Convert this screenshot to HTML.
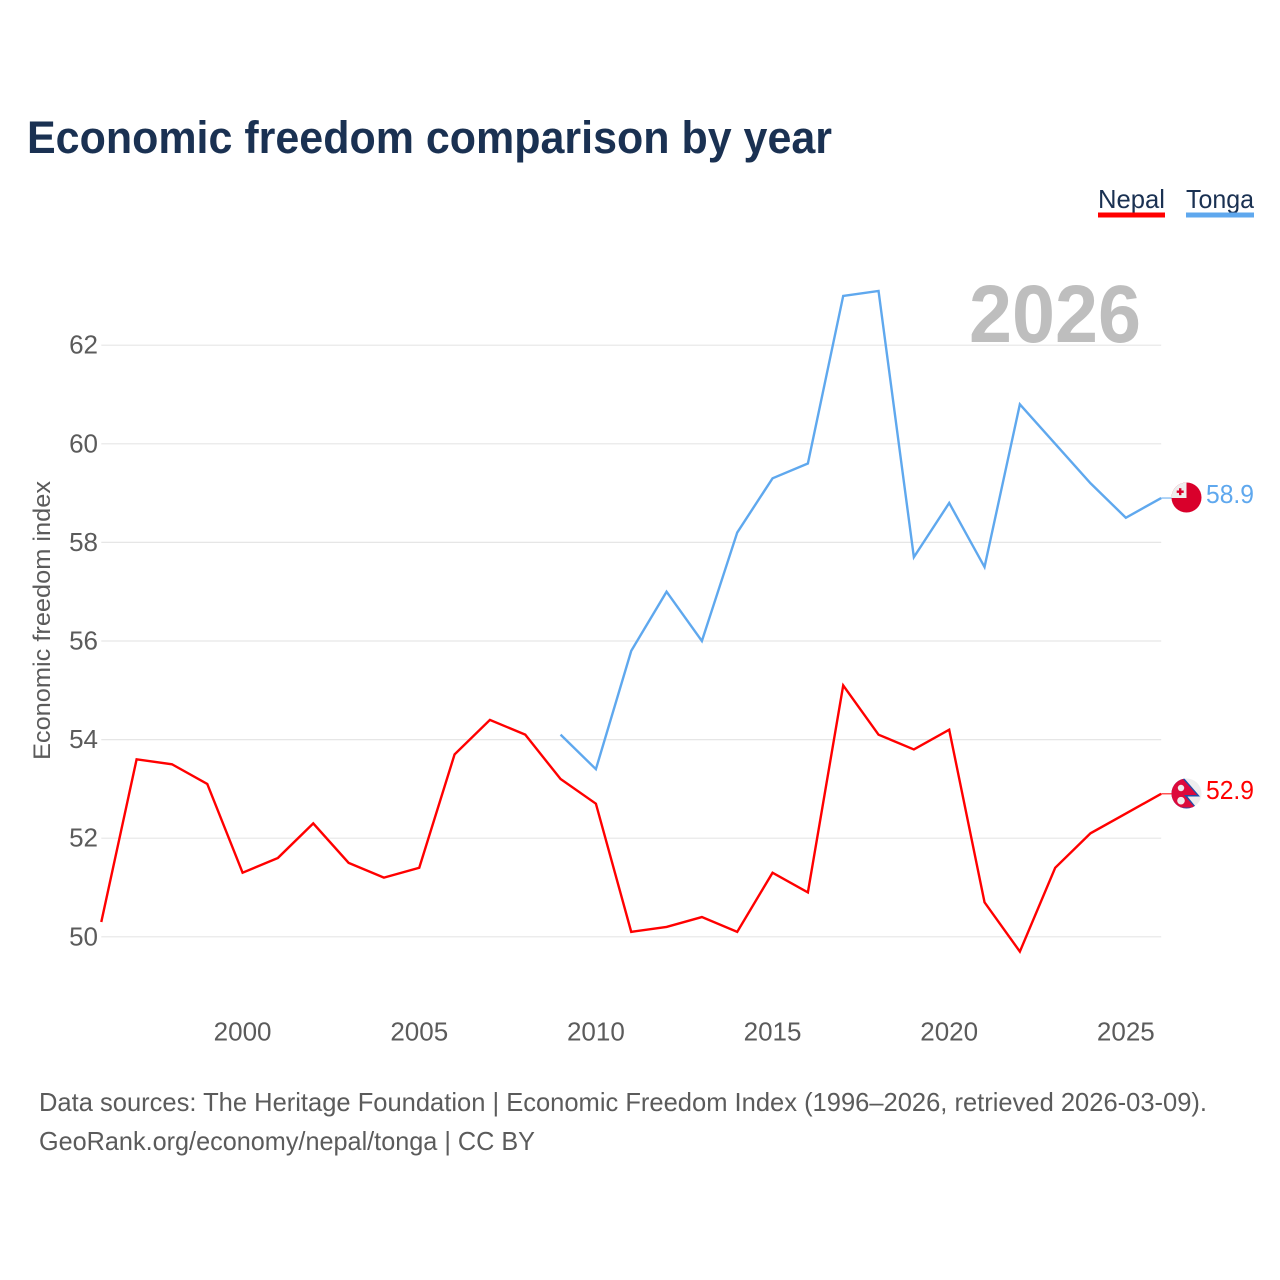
<!DOCTYPE html>
<html lang="en">
<head>
<meta charset="utf-8">
<title>Economic freedom comparison by year</title>
<style>
html,body{margin:0;padding:0;background:#fff;width:1280px;height:1280px;overflow:hidden}
svg{display:block}
text{font-family:"Liberation Sans",sans-serif}
</style>
</head>
<body>
<svg id="chart" xmlns="http://www.w3.org/2000/svg" width="1280" height="1280" viewBox="0 0 1280 1280">
  <defs>
    <clipPath id="clip-tonga"><circle cx="1186.5" cy="497.5" r="15"/></clipPath>
    <clipPath id="clip-nepal"><circle cx="1186.5" cy="793.5" r="15"/></clipPath>
  </defs>
  <text x="27" y="153" font-size="45" font-weight="700" fill="#1a3152" textLength="805" lengthAdjust="spacingAndGlyphs">Economic freedom comparison by year</text>

  <g>
    <text x="1098" y="208" font-size="26" fill="#1a3152" textLength="67" lengthAdjust="spacingAndGlyphs">Nepal</text>
    <rect x="1098" y="212.5" width="67" height="5" fill="#ff0000"/>
  </g>
  <g>
    <text x="1186" y="208" font-size="26" fill="#1a3152" textLength="68" lengthAdjust="spacingAndGlyphs">Tonga</text>
    <rect x="1186" y="212.5" width="68" height="5" fill="#5fa8ee"/>
  </g>

  <g id="grid"></g>
  <text x="969" y="342" font-size="82" font-weight="700" fill="#bebebe" textLength="172" lengthAdjust="spacingAndGlyphs">2026</text>
  <g id="y-ticks"></g>
  <g id="x-ticks"></g>
  <text transform="translate(50,620.5) rotate(-90)" text-anchor="middle" font-size="24" fill="#5b5b5b" textLength="279" lengthAdjust="spacingAndGlyphs">Economic freedom index</text>
  <g id="series"></g>

  <g clip-path="url(#clip-tonga)">
    <rect x="1171" y="482" width="31" height="32" fill="#d9002b"/>
    <rect x="1171" y="482" width="15.5" height="16" fill="#eeeeee"/>
    <rect x="1179" y="488.2" width="2.4" height="7" fill="#d9002b"/>
    <rect x="1176.7" y="490.5" width="7" height="2.4" fill="#d9002b"/>
  </g>
  <g clip-path="url(#clip-nepal)">
    <rect x="1171" y="778" width="31" height="32" fill="#eeeeee"/>
    <polygon points="1171,763 1200,796.5 1187.5,796.5 1198,809.5 1171,809.5" fill="#1f4fa8"/>
    <polygon points="1171,765.5 1197,795 1184,795 1195,807.5 1171,807.5" fill="#dc0a3c"/>
    <circle cx="1181" cy="788" r="3.2" fill="#eeeeee"/>
    <circle cx="1181" cy="800.7" r="3.8" fill="#eeeeee"/>
  </g>

  <text x="1206" y="503" font-size="26" fill="#5fa8ee" textLength="48" lengthAdjust="spacingAndGlyphs">58.9</text>
  <text x="1206" y="799" font-size="26" fill="#ff0000" textLength="48" lengthAdjust="spacingAndGlyphs">52.9</text>

  <text x="39" y="1111" font-size="26" fill="#5b5b5b" textLength="1168" lengthAdjust="spacingAndGlyphs">Data sources: The Heritage Foundation | Economic Freedom Index (1996–2026, retrieved 2026-03-09).</text>
  <text x="39" y="1150" font-size="26" fill="#5b5b5b" textLength="496" lengthAdjust="spacingAndGlyphs">GeoRank.org/economy/nepal/tonga | CC BY</text>
</svg>
<script>
const nepalYears = [1996,1997,1998,1999,2000,2001,2002,2003,2004,2005,2006,2007,2008,2009,2010,2011,2012,2013,2014,2015,2016,2017,2018,2019,2020,2021,2022,2023,2024,2025,2026];
const nepalValues = [50.3,53.6,53.5,53.1,51.3,51.6,52.3,51.5,51.2,51.4,53.7,54.4,54.1,53.2,52.7,50.1,50.2,50.4,50.1,51.3,50.9,55.1,54.1,53.8,54.2,50.7,49.7,51.4,52.1,52.5,52.9];
const tongaYears = [2009,2010,2011,2012,2013,2014,2015,2016,2017,2018,2019,2020,2021,2022,2023,2024,2025,2026];
const tongaValues = [54.1,53.4,55.8,57.0,56.0,58.2,59.3,59.6,63.0,63.1,57.7,58.8,57.5,60.8,60.0,59.2,58.5,58.9];
const xTickValues = [2000,2005,2010,2015,2020,2025];
const yTickValues = [50,52,54,56,58,60,62];

const SVG_NS = 'http://www.w3.org/2000/svg';
const xScale = function (year) { return 242.6 + (year - 2000) * 35.33; };
const yScale = function (value) { return 936.8 - (value - 50) * 49.3; };
const plotLeft = xScale(1996);
const plotRight = xScale(2026);

const grid = document.getElementById('grid');
const yTicks = document.getElementById('y-ticks');
const xTicks = document.getElementById('x-ticks');
const seriesGroup = document.getElementById('series');

yTickValues.forEach(function (v) {
  const line = document.createElementNS(SVG_NS, 'line');
  
  
  line.setAttribute('x1', plotLeft);
  line.setAttribute('x2', plotRight);
  line.setAttribute('y1', yScale(v));
  line.setAttribute('y2', yScale(v));
  line.setAttribute('stroke', '#e6e6e6');
  line.setAttribute('stroke-width', '1.2');
  grid.appendChild(line);

  const label = document.createElementNS(SVG_NS, 'text');
  
  
  label.setAttribute('x', 98);
  label.setAttribute('y', yScale(v) + 8.5);
  label.setAttribute('text-anchor', 'end');
  label.setAttribute('font-size', '26');
  label.setAttribute('fill', '#5b5b5b');
  label.textContent = v;
  yTicks.appendChild(label);
});

xTickValues.forEach(function (year) {
  const label = document.createElementNS(SVG_NS, 'text');
  
  
  label.setAttribute('x', xScale(year));
  label.setAttribute('y', 1040.5);
  label.setAttribute('text-anchor', 'middle');
  label.setAttribute('font-size', '26');
  label.setAttribute('fill', '#5b5b5b');
  label.textContent = year;
  xTicks.appendChild(label);
});

function pointsFor(years, values) {
  return years.map(function (y, i) {
    return xScale(y).toFixed(2) + ',' + yScale(values[i]).toFixed(2);
  }).join(' ');
}

const nepalLine = document.createElementNS(SVG_NS, 'polyline');


nepalLine.setAttribute('points', pointsFor(nepalYears, nepalValues));
nepalLine.setAttribute('fill', 'none');
nepalLine.setAttribute('stroke', '#ff0000');
nepalLine.setAttribute('stroke-width', '2.4');
seriesGroup.appendChild(nepalLine);

const tongaLine = document.createElementNS(SVG_NS, 'polyline');


tongaLine.setAttribute('points', pointsFor(tongaYears, tongaValues));
tongaLine.setAttribute('fill', 'none');
tongaLine.setAttribute('stroke', '#5fa8ee');
tongaLine.setAttribute('stroke-width', '2.4');
seriesGroup.appendChild(tongaLine);

const nepalConnector = document.createElementNS(SVG_NS, 'line');


nepalConnector.setAttribute('x1', plotRight);
nepalConnector.setAttribute('x2', plotRight + 11);
nepalConnector.setAttribute('y1', yScale(nepalValues[nepalValues.length - 1]));
nepalConnector.setAttribute('y2', yScale(nepalValues[nepalValues.length - 1]));
nepalConnector.setAttribute('stroke', '#ff0000');
nepalConnector.setAttribute('stroke-width', '1');
seriesGroup.appendChild(nepalConnector);

const tongaConnector = document.createElementNS(SVG_NS, 'line');


tongaConnector.setAttribute('x1', plotRight);
tongaConnector.setAttribute('x2', plotRight + 11);
tongaConnector.setAttribute('y1', yScale(tongaValues[tongaValues.length - 1]));
tongaConnector.setAttribute('y2', yScale(tongaValues[tongaValues.length - 1]));
tongaConnector.setAttribute('stroke', '#5fa8ee');
tongaConnector.setAttribute('stroke-width', '1');
seriesGroup.appendChild(tongaConnector);
</script>
</body>
</html>
